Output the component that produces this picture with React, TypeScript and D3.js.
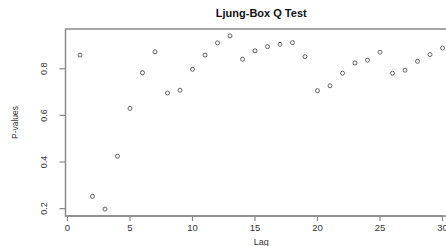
import React from 'react';
import * as d3 from 'd3';

const lags = d3.range(1, 31);
const pValues = [
  0.859, 0.253, 0.198, 0.425, 0.630, 0.783, 0.873, 0.696, 0.708, 0.798,
  0.859, 0.911, 0.941, 0.841, 0.877, 0.895, 0.905, 0.912, 0.852, 0.706,
  0.727, 0.781, 0.825, 0.837, 0.871, 0.781, 0.794, 0.832, 0.861, 0.889,
];
const xTicks = [0, 5, 10, 15, 20, 25, 30];
const yTicks = [0.2, 0.4, 0.6, 0.8];

const W = 446;
const H = 246;
const font = '"Liberation Sans", Arial, sans-serif';

const App: React.FC = () => {
  const margin = { left: 65.5, top: 29, bottom: 216, right: 457 };

  // R style 4% range extension
  const xExt = (30 - 1) * 0.04;
  const x = d3.scaleLinear().domain([1 - xExt, 30 + xExt]).range([margin.left, margin.right]);
  const [yMin, yMax] = d3.extent(pValues) as [number, number];
  const yExt = (yMax - yMin) * 0.04;
  const y = d3.scaleLinear().domain([yMin - yExt, yMax + yExt]).range([margin.bottom, margin.top]);

  const cx = (margin.left + margin.right) / 2;
  const cy = (margin.top + margin.bottom) / 2;
  const axisColor = '#8a8a8a';

  return (
    <div style={{ position: 'absolute', left: 0, top: 0, width: W, height: H, overflow: 'hidden' }}>
      <svg width={W} height={H} style={{ display: 'block', background: '#fff' }}>
        <rect
          x={margin.left}
          y={margin.top}
          width={margin.right - margin.left}
          height={margin.bottom - margin.top}
          fill="none"
          stroke={axisColor}
          strokeWidth={1.5}
        />
        <text x={cx} y={17} textAnchor="middle" fontFamily={font} fontWeight="bold" fontSize={11} fill="#111">
          Ljung-Box Q Test
        </text>

        {xTicks.map(t => (
          <g key={'x' + t}>
            <line x1={x(t)} x2={x(t)} y1={margin.bottom} y2={margin.bottom + 5} stroke={axisColor} strokeWidth={1.2} />
            <text x={x(t)} y={230.5} textAnchor="middle" fontFamily={font} fontSize={9.5} fill="#333">
              {t}
            </text>
          </g>
        ))}
        <line x1={x(0)} x2={x(30)} y1={margin.bottom} y2={margin.bottom} stroke={axisColor} strokeWidth={1.5} />
        <text x={cx} y={245} textAnchor="middle" fontFamily={font} fontSize={9} fill="#333">
          Lag
        </text>

        {yTicks.map(t => (
          <g key={'y' + t}>
            <line x1={margin.left - 6} x2={margin.left} y1={y(t)} y2={y(t)} stroke={axisColor} strokeWidth={1.2} />
            <text
              transform={`translate(47,${y(t)}) rotate(-90)`}
              textAnchor="middle"
              fontFamily={font}
              fontSize={9}
              fill="#333"
            >
              {t.toFixed(1)}
            </text>
          </g>
        ))}
        <text
          transform={`translate(18,${cy}) rotate(-90)`}
          textAnchor="middle"
          fontFamily={font}
          fontSize={8.5}
          fill="#333"
        >
          P-values
        </text>

        {lags.map((lag, i) => (
          <circle key={lag} cx={x(lag)} cy={y(pValues[i])} r={2} fill="none" stroke="#555" strokeWidth={0.9} />
        ))}
      </svg>
    </div>
  );
};

export default App;
